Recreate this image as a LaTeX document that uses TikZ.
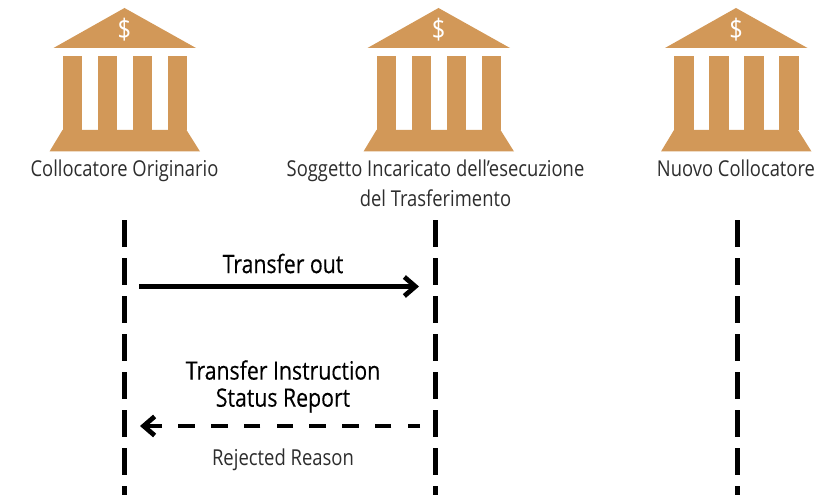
\documentclass[tikz,border=0pt]{standalone}
\usepackage{fontspec}
\setmainfont{Open Sans}[FakeStretch=0.84]
\newfontfamily\medfont{Open Sans}[FakeStretch=0.84,FakeBold=0.25]
\usetikzlibrary{arrows.meta}
\definecolor{bankcolor}{RGB}{210,152,88}
\definecolor{labelcolor}{RGB}{45,45,45}
\tikzset{
  bank/.pic={
    \fill [bankcolor] (-1.42,-0.8) -- (0,0) -- (1.43,-0.8) -- cycle;
    \foreach \x in {-1.24,-0.54,0.16,0.86}
      \fill [bankcolor] (\x,-0.97) rectangle ++(0.39,-1.47);
    \fill [bankcolor] (-1.24,-2.44) -- (1.24,-2.44) -- (1.51,-2.87) -- (-1.5,-2.87) -- cycle;
    \node [text=white,font=\fontsize{16}{16}\selectfont] at (0,-0.44) {\$};
  },
  actor/.style={text=labelcolor,font=\fontsize{12.45}{17}\selectfont,align=center,anchor=north},
  message/.style={font=\fontsize{14.4}{15.4}\medfont,align=center},
  reason/.style={text=labelcolor,font=\fontsize{12.5}{13}\selectfont,align=center},
  lifeline/.style={line width=0.1cm,dash pattern=on 0.54cm off 0.22cm},
  flow/.style={line width=0.095cm,-{Straight Barb[length=0.22cm,width=0.38cm]}},
}
\begin{document}
\begin{tikzpicture}
  \useasboundingbox (0,0) rectangle (16.36,-10);
  \pic at (2.49,-0.16) {bank};
  \pic at (8.77,-0.16) {bank};
  \pic at (14.72,-0.16) {bank};
  \node [actor] (orig) at (2.49,-3.08) {Collocatore Originario};
  \node [actor] (sogg) at (8.71,-3.08) {Soggetto Incaricato dell’esecuzione\\del Trasferimento};
  \node [actor] (nuovo) at (14.72,-3.08) {Nuovo Collocatore};
  \coordinate (origtop) at (2.48,-4.41);
  \coordinate (origend) at (2.48,-9.9);
  \coordinate (soggtop) at (8.7,-4.41);
  \coordinate (soggend) at (8.7,-9.9);
  \coordinate (nuovotop) at (14.74,-4.41);
  \coordinate (nuovoend) at (14.74,-9.9);
  \draw [lifeline] (origtop) -- (origend);
  \draw [lifeline] (soggtop) -- (soggend);
  \draw [lifeline] (nuovotop) -- (nuovoend);
  \coordinate (outa) at (2.78,-5.73);
  \coordinate (outb) at (8.38,-5.73);
  \coordinate (reja) at (8.4,-8.52);
  \coordinate (rejb) at (2.8,-8.52);
  \draw [flow] (outa) -- (outb);
  \draw [flow,dash pattern=on 0.33cm off 0.325cm,dash phase=0.08cm] (reja) -- (rejb);
  \node [message] (out) at (5.66,-5.27) {Transfer out};
  \node [message] (status) at (5.66,-7.73) {Transfer Instruction\\Status Report};
  \node [reason] (reason) at (5.66,-9.19) {Rejected Reason};
\end{tikzpicture}
\end{document}
